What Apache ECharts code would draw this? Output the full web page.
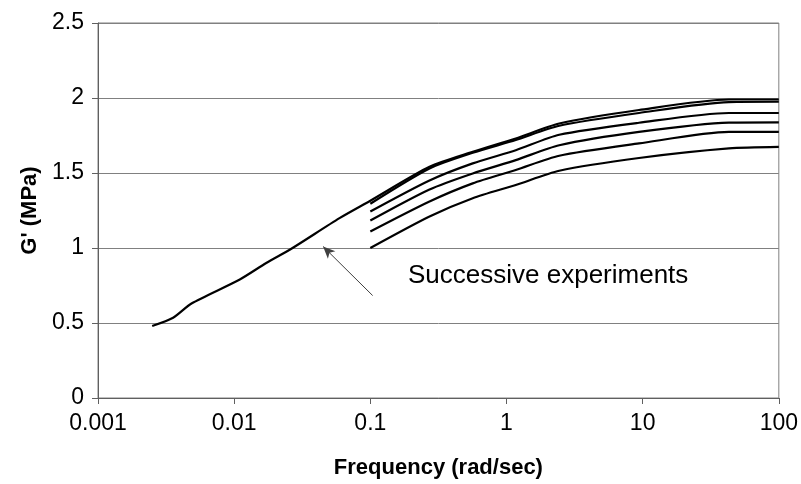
<!DOCTYPE html>
<html>
<head>
<meta charset="utf-8">
<script src="https://cdn.jsdelivr.net/npm/echarts@6/dist/echarts.min.js"></script>
<style>
html,body{margin:0;padding:0;background:#fff;}
#chart{width:801px;height:484px;}
</style>
</head>
<body>
<div id="chart"></div>
<script>
// Frequency (rad/sec) and G' (MPa) values
const freqA = [0.0025, 0.00356, 0.00486, 0.011, 0.0172, 0.0263, 0.0594, 0.1, 0.272, 0.565, 1.17, 2.44, 9.4, 43, 100];
const gA    = [0.48, 0.535, 0.63, 0.79, 0.90, 0.995, 1.199, 1.315, 1.541, 1.641, 1.73, 1.83, 1.92, 1.99, 1.99];

const freqExp = [0.1, 0.272, 0.565, 1.17, 2.44, 9.4, 43, 100];
const gB = [1.295, 1.53, 1.635, 1.72, 1.815, 1.90, 1.973, 1.975];
const gC = [1.243, 1.45, 1.564, 1.652, 1.755, 1.835, 1.90, 1.90];
const gD = [1.183, 1.39, 1.497, 1.586, 1.685, 1.774, 1.836, 1.838];
const gE = [1.11, 1.31, 1.431, 1.52, 1.615, 1.697, 1.774, 1.774];
const gF = [1.0, 1.21, 1.332, 1.42, 1.515, 1.60, 1.664, 1.674];

const arrowTail = [0.104, 0.683];
const arrowHead = [0.045, 1.01];

const xTicks = [0.001, 0.01, 0.1, 1, 10, 100];
const yTicks = [0, 0.5, 1, 1.5, 2, 2.5];

const annotationText = 'Successive experiments';
const xName = 'Frequency (rad/sec)';
const yName = "G' (MPa)";

function pairs(xs, ys){ return xs.map((x,i)=>[x, ys[i]]); }

const chart = echarts.init(document.getElementById('chart'), null, {renderer:'canvas'});

const lineStyle = {color:'#000', width:2.2};
function mk(name, xs, ys, extra){
  return Object.assign({
    name: name, type:'line', data: pairs(xs, ys), smooth: 0.25,
    showSymbol:false, symbol:'none', lineStyle: lineStyle, animation:false, z:3
  }, extra || {});
}

const fontFam = '"Liberation Sans", Arial, sans-serif';

chart.setOption({
  animation:false,
  backgroundColor:'#fff',
  grid:{left:98, right:21, top:23, bottom:85, show:true, borderColor:'#808080', borderWidth:1},
  xAxis:{
    type:'log', logBase:10, min:xTicks[0], max:xTicks[xTicks.length-1],
    name:xName, nameLocation:'middle', nameGap:59,
    nameTextStyle:{fontFamily:fontFam, fontSize:22, fontWeight:'bold', color:'#000'},
    axisLine:{show:true, lineStyle:{color:'#606060', width:1}},
    axisTick:{show:true, length:6, lineStyle:{color:'#606060'}},
    minorTick:{show:false},
    splitLine:{show:false},
    axisLabel:{fontFamily:fontFam, fontSize:23, color:'#000', margin:14,
      formatter:function(v){ return String(+v.toPrecision(6)); }}
  },
  yAxis:{
    type:'value', min:yTicks[0], max:yTicks[yTicks.length-1], interval:0.5,
    name:yName, nameLocation:'middle', nameGap:48, nameRotate:90,
    nameTextStyle:{fontFamily:fontFam, fontSize:22, fontWeight:'bold', color:'#000'},
    axisLine:{show:true, lineStyle:{color:'#606060', width:1}},
    axisTick:{show:true, length:6, lineStyle:{color:'#606060'}},
    splitLine:{show:true, lineStyle:{color:'#808080', width:1}},
    axisLabel:{fontFamily:fontFam, fontSize:23, color:'#000', margin:14,
      formatter:function(v){ return String(v); }}
  },
  series:[
    mk('A', freqA, gA, {
      markLine:{
        silent:true, symbol:['none','arrow'], symbolSize:[8,12],
        label:{show:false},
        lineStyle:{color:'#404040', width:1, type:'solid'},
        data:[[{coord:arrowTail}, {coord:arrowHead}]],
        animation:false
      }
    }),
    mk('B', freqExp, gB),
    mk('C', freqExp, gC),
    mk('D', freqExp, gD),
    mk('E', freqExp, gE),
    mk('F', freqExp, gF)
  ],
  graphic:[{
    type:'text', left:408, top:263,
    style:{text:annotationText, font:'26px "Liberation Sans", Arial, sans-serif', fill:'#000'}
  }]
});
</script>
</body>
</html>
